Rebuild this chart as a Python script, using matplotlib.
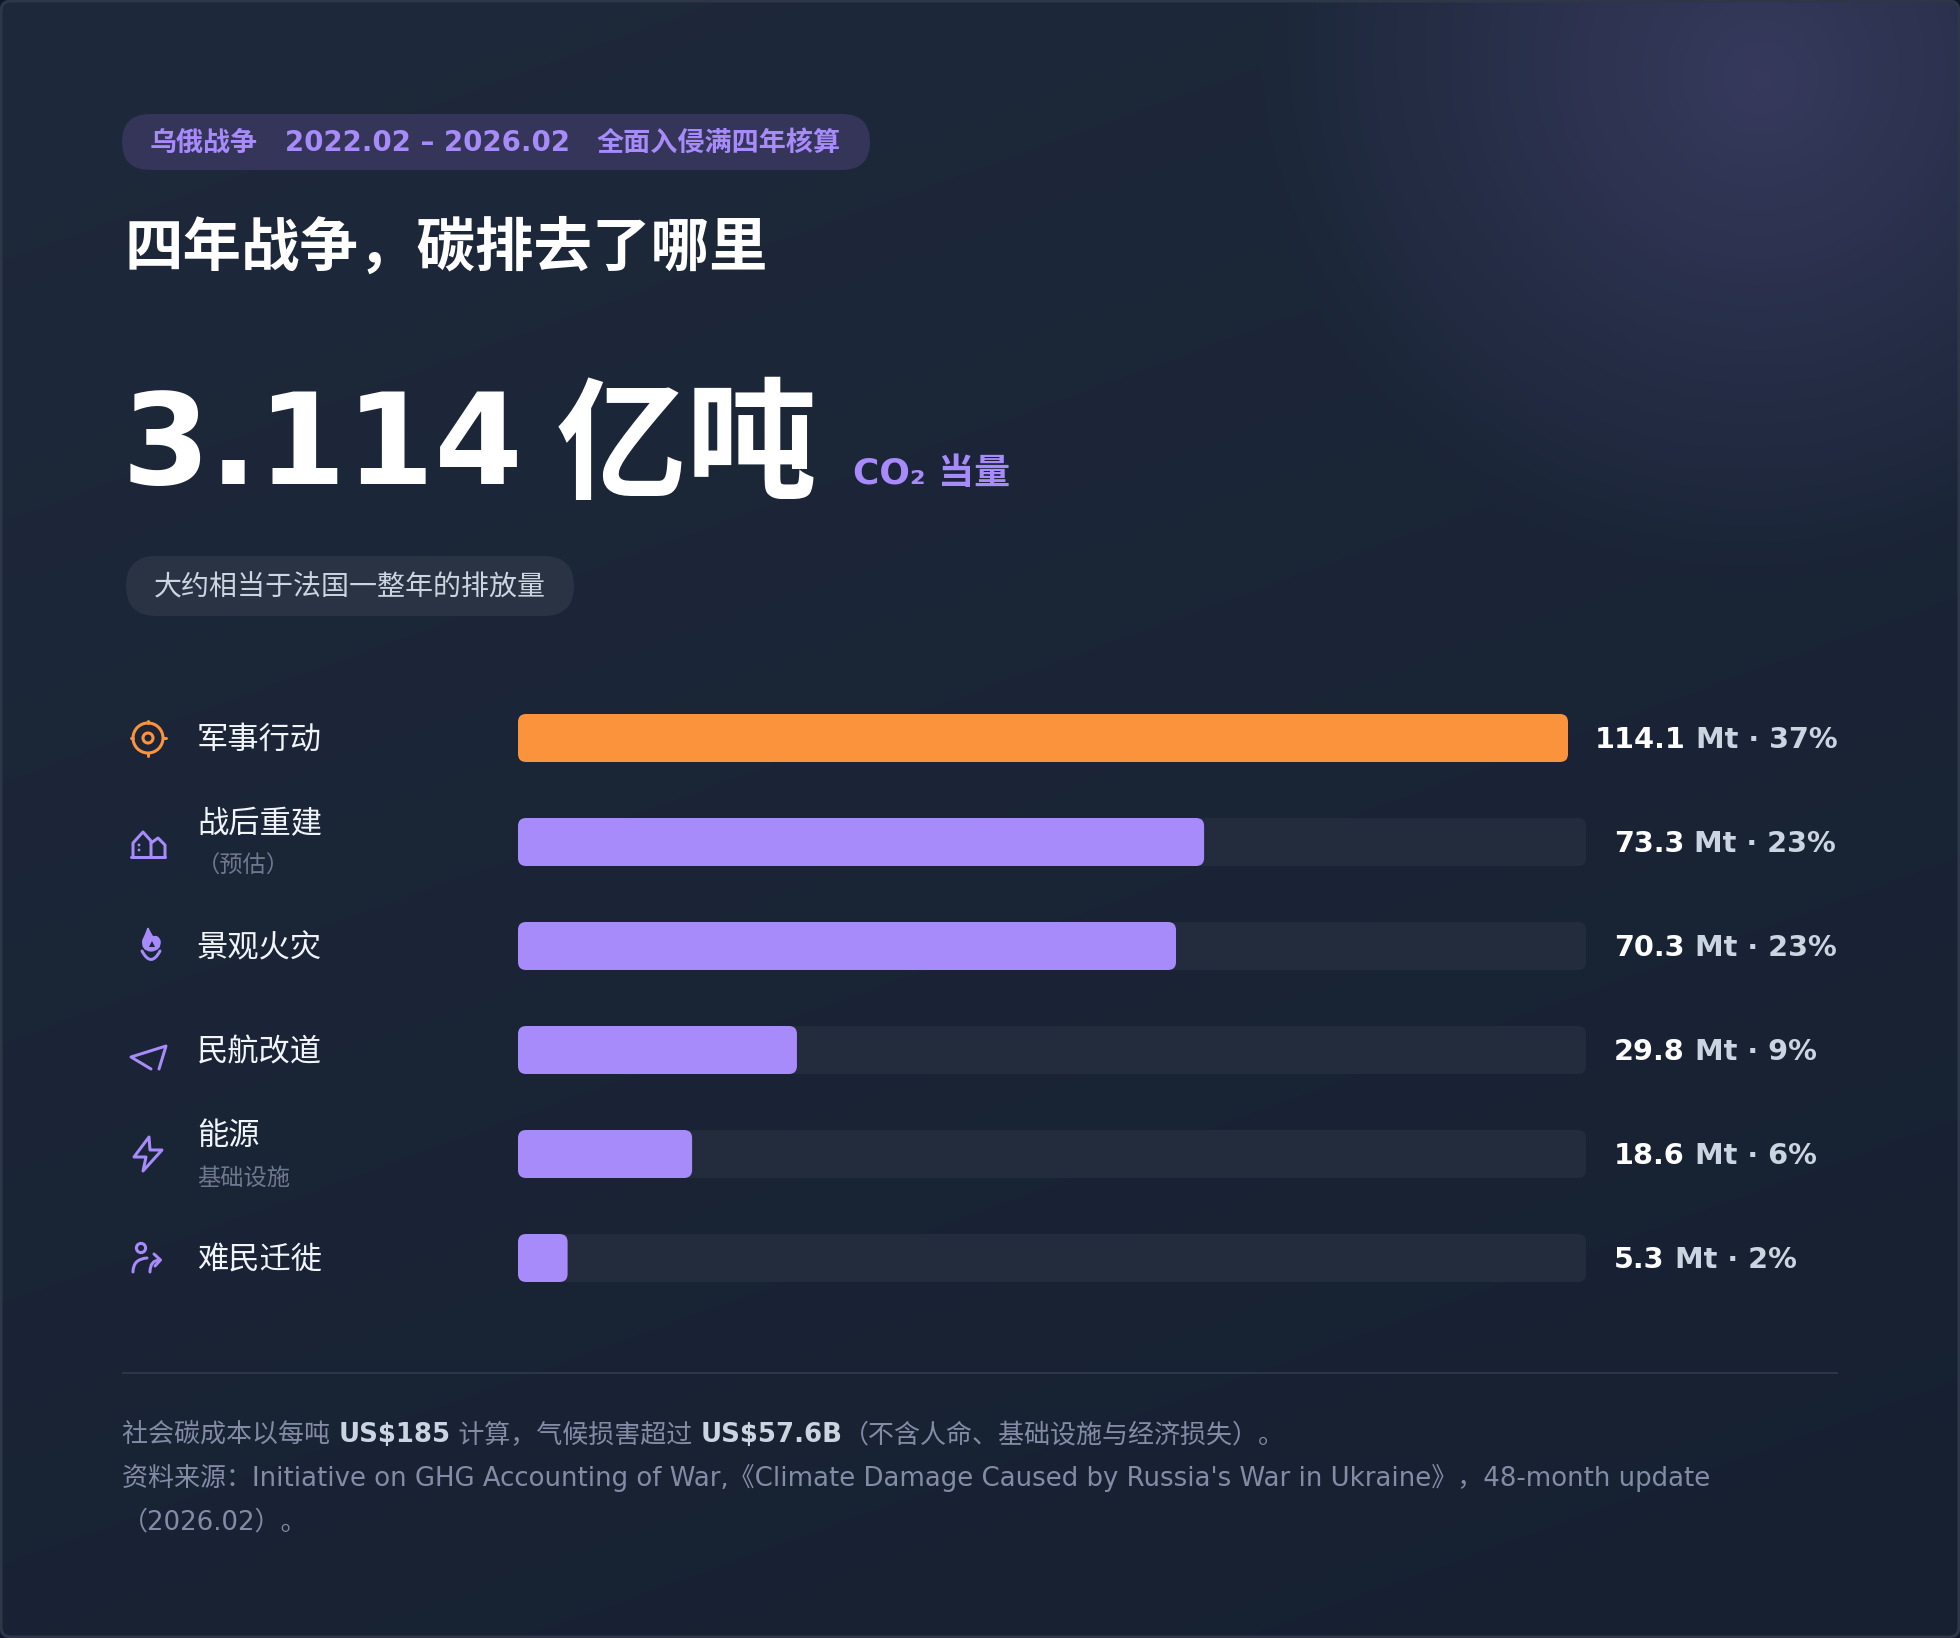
import numpy as np
import matplotlib
matplotlib.use("Agg")
import matplotlib.pyplot as plt
from matplotlib.patches import FancyBboxPatch, Circle, PathPatch, Polygon
from matplotlib.path import Path

plt.rcParams['font.family'] = ['DejaVu Sans', 'Noto Sans CJK SC']

# data
categories = ['军事行动', '战后重建', '景观火灾', '民航改道', '能源', '难民迁徙']
sublabels = ['', '（预估）', '', '', '基础设施', '']
values_mt = [114.1, 73.3, 70.3, 29.8, 18.6, 5.3]
shares_pct = [37, 23, 23, 9, 6, 2]

W, H = 1960, 1638
PURPLE = '#a78bfa'
ORANGE = '#fb923c'
MUTED = '#838ba6'


def px(size):
    # css pixels -> points at dpi 100
    return size * 0.72


fig = plt.figure(figsize=(W / 100, H / 100), dpi=100, facecolor='#0f172a')
ax = fig.add_axes([0, 0, 1, 1])
ax.set_xlim(0, W)
ax.set_ylim(H, 0)
ax.axis('off')

# background: diagonal gradient plus a purple glow in the top right corner
yy, xx = np.mgrid[0:H, 0:W]
t = np.clip((xx * 0.34 + yy * 0.94) / (W * 0.34 + H * 0.94), 0, 1)[..., None]
top = np.array([0x1e, 0x29, 0x3b], float)
bottom = np.array([0x16, 0x20, 0x31], float)
img = top * (1 - t) + bottom * t
dist = np.hypot(xx - 1760, yy - 80) / 500
glow = np.clip(1 - dist, 0, 1)[..., None] * 0.19
img = img * (1 - glow) + np.array([0xa7, 0x8b, 0xfa], float) * glow
bg = ax.imshow(img / 255, extent=(0, W, H, 0), aspect='auto', zorder=0, interpolation='bilinear')
card = FancyBboxPatch((1, 1), W - 2, H - 2, boxstyle='round,pad=0,rounding_size=10',
                      fc='none', ec='#2d3748', lw=2.2, zorder=1)
ax.add_patch(card)
bg.set_clip_path(card)


def pill(x0, y0, x1, y1, color):
    r = (y1 - y0) / 2
    ax.add_patch(FancyBboxPatch((x0, y0), x1 - x0, y1 - y0, fc=color, ec='none', zorder=2,
                                boxstyle=f'round,pad=0,rounding_size={r}'))


def runs(x, y, parts, size):
    # consecutive pieces of text on one baseline
    renderer = fig.canvas.get_renderer()
    for s, color, weight in parts:
        item = ax.text(x, y, s, color=color, fontsize=px(size), fontweight=weight,
                       va='baseline', ha='left', zorder=5)
        x += item.get_window_extent(renderer).width


# header
pill(122, 114, 870, 170, '#343558')
for x, s, size in [(150, '乌俄战争', 27), (285, '2022.02 – 2026.02', 27.6), (597, '全面入侵满四年核算', 27.1)]:
    ax.text(x, 151, s, color=PURPLE, fontsize=px(size), fontweight='bold', va='baseline', zorder=5)
ax.text(124, 266, '四年战争，碳排去了哪里', color='white', fontsize=px(58.5), fontweight='bold',
        va='baseline', zorder=5)
ax.text(122, 484, '3.114', color='white', fontsize=px(127), fontweight='bold',
        va='baseline', zorder=5)
ax.text(556, 488, '亿吨', color='white', fontsize=px(131), fontweight='bold',
        va='baseline', zorder=5)
ax.text(853, 484, 'CO₂ 当量', color=PURPLE, fontsize=px(36), fontweight='bold',
        va='baseline', zorder=5)
pill(126, 556, 574, 616, '#2a3343')
ax.text(154, 595, '大约相当于法国一整年的排放量', color='#cbd5e1', fontsize=px(28),
        va='baseline', zorder=5)

# bars: one small axes per row, all sharing the same value range
BAR_X, TRACK_W, BAR_H, ROW_TOP, ROW_STEP = 518, 1068, 48, 714, 104
max_val = max(values_mt)
for i, (name, sub, val, pct) in enumerate(zip(categories, sublabels, values_mt, shares_pct)):
    y0 = ROW_TOP + i * ROW_STEP
    mid = y0 + BAR_H / 2
    # the longest bar's row gives up some track to its wider label
    width = 1050 if val == max_val else TRACK_W
    bar_ax = fig.add_axes([BAR_X / W, 1 - (y0 + BAR_H) / H, width / W, BAR_H / H])
    bar_ax.set_xlim(0, max_val)
    bar_ax.set_ylim(0, 1)
    bar_ax.axis('off')
    aspect = (1 / BAR_H) / (max_val / width)
    rounding = f'round,pad=0,rounding_size={8 * max_val / width}'
    bar_ax.add_patch(FancyBboxPatch((0, 0), max_val, 1, boxstyle=rounding, fc='#222c3c', ec='none',
                                    mutation_aspect=aspect, clip_on=False))
    bar_ax.add_patch(FancyBboxPatch((0, 0), val, 1, boxstyle=rounding,
                                    fc=ORANGE if val == max_val else PURPLE, ec='none',
                                    mutation_aspect=aspect, clip_on=False))

    if sub:
        ax.text(197, mid - 9, name, color='#f1f5f9', fontsize=px(31.3), va='baseline', zorder=5)
        ax.text(197, mid + 31, sub, color='#6f7890', fontsize=px(23.3), va='baseline', zorder=5)
    else:
        ax.text(197, mid + 11, name, color='#f1f5f9', fontsize=px(31.3), va='baseline', zorder=5)
    label_x = BAR_X + width + (27 if val == max_val else 28)
    runs(label_x, mid + 10, [(f'{val}', 'white', 'bold'), (f' Mt · {pct}%', '#cbd5e1', 'bold')], 28.8)


# icons
def stroke(points, color=PURPLE, closed=False, lw=3):
    xs, ys = zip(*points)
    if closed:
        ax.add_patch(Polygon(points, closed=True, fc='none', ec=color, lw=lw * 0.72, joinstyle='round', zorder=4))
    else:
        ax.plot(xs, ys, color=color, lw=lw * 0.72, solid_capstyle='round', solid_joinstyle='round', zorder=4)


def curve(p0, c, p1, color=PURPLE, lw=3):
    ax.add_patch(PathPatch(Path([p0, c, p1], [Path.MOVETO, Path.CURVE3, Path.CURVE3]), fc='none',
                           ec=color, lw=lw * 0.72, capstyle='round', zorder=4))


# target
ax.add_patch(Circle((148, 738), 15, fc='none', ec=ORANGE, lw=2.2, zorder=4))
ax.add_patch(Circle((148, 738), 5, fc='none', ec=ORANGE, lw=2.2, zorder=4))
for dx, dy in [(1, 0), (-1, 0), (0, 1), (0, -1)]:
    stroke([(148 + dx * 15, 738 + dy * 15), (148 + dx * 17.5, 738 + dy * 17.5)], ORANGE)
# houses
stroke([(131, 857), (165, 857)])
stroke([(133, 857), (133, 843), (143, 832), (151, 841), (151, 857)])
stroke([(151, 843), (158, 838), (165, 845), (165, 857)])
ax.add_patch(Circle((139, 845), 1.4, fc=PURPLE, ec='none', zorder=4))
ax.add_patch(Circle((139, 850), 1.4, fc=PURPLE, ec='none', zorder=4))
# flame over a bowl
curve((142, 951), (151, 968), (160, 951))
flame = Path([(148, 928), (146, 934), (143, 940), (141, 950), (151, 951), (161, 950), (160, 941),
              (158, 935), (153, 937), (150, 933), (148, 928)],
             [Path.MOVETO] + [Path.CURVE3] * 10)
ax.add_patch(PathPatch(flame, fc=PURPLE, ec=PURPLE, lw=1, zorder=4))
ax.add_patch(Polygon([(152, 941), (155, 947), (149, 947)], fc='#1c2638', ec='none', zorder=4))
# paper plane
stroke([(151, 1069), (131, 1057), (166, 1046), (159, 1069)])
# lightning bolt
stroke([(149, 1137), (134, 1157), (146, 1157), (143, 1171), (162, 1150), (150, 1150)], closed=True)
# person with arrow
ax.add_patch(Circle((141, 1248), 4.6, fc='none', ec=PURPLE, lw=2.2, zorder=4))
curve((133, 1272), (133, 1259), (147, 1258))
curve((150, 1272), (150, 1260), (160, 1260))
stroke([(154, 1254), (160.5, 1260), (155, 1266)])

# footer
ax.plot([122, 1838], [1372.5, 1372.5], color='#2c3648', lw=1.5, zorder=3, solid_capstyle='butt')
BOLD_FOOT = '#cbd5e1'
runs(122, 1442, [('社会碳成本以每吨 ', MUTED, 'normal'), ('US$185', BOLD_FOOT, 'bold'),
                 (' 计算，气候损害超过 ', MUTED, 'normal'), ('US$57.6B', BOLD_FOOT, 'bold'),
                 ('（不含人命、基础设施与经济损失）。', MUTED, 'normal')], 26)
ax.text(122, 1486, "资料来源：Initiative on GHG Accounting of War,《Climate Damage Caused by "
        "Russia's War in Ukraine》，48-month update", color=MUTED, fontsize=px(26), va='baseline', zorder=5)
ax.text(122, 1530, '（2026.02）。', color=MUTED, fontsize=px(26), va='baseline', zorder=5)

fig.savefig('out.png', dpi=100, facecolor=fig.get_facecolor())
